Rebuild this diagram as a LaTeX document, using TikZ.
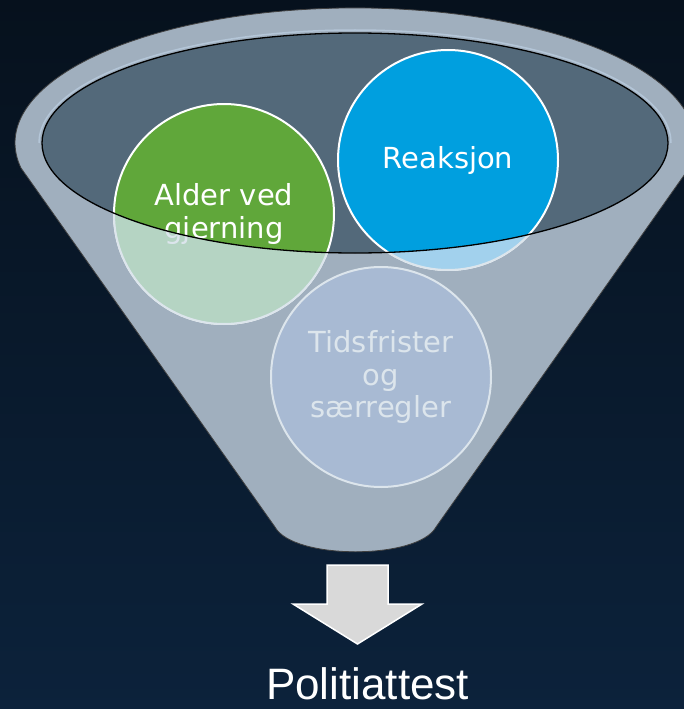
\documentclass[tikz,border=0pt]{standalone}
\usepackage{fontspec}
\setmainfont{Liberation Sans}
\newfontfamily\bubblefont{DejaVu Sans}
\definecolor{bgtop}{HTML}{06111D}
\definecolor{bgbot}{HTML}{0C223B}
\definecolor{funnel}{HTML}{A0AFBE}
\definecolor{mouth}{HTML}{53697A}
\definecolor{rimlight}{HTML}{B4C6D8}
\definecolor{alder}{HTML}{60A73A}
\definecolor{alderfade}{HTML}{B5D4C3}
\definecolor{reak}{HTML}{009FDF}
\definecolor{reakfade}{HTML}{A2D1ED}
\definecolor{frist}{HTML}{A8BAD3}
\definecolor{fadetext}{HTML}{DCE5EC}
\definecolor{pil}{HTML}{D9D9D9}
\begin{document}
\begin{tikzpicture}
    [x=1pt,y=-1pt,
     bubble/.style={circle,minimum size=220pt,inner sep=0pt,align=center,
       font=\bubblefont\fontsize{29}{32.5}\selectfont,text=white,draw=white,line width=2pt},
     faded/.style={draw=fadetext,text=fadetext}]
    \useasboundingbox (0,0) rectangle (684,709);
    \fill[top color=bgtop,bottom color=bgbot] (0,0) rectangle (684,709);
    % funnel body
    \fill[funnel,draw=black!75,line width=0.8pt] (275,527) -- (21,168)
      arc[start angle=169.3,end angle=370.7,x radius=340,y radius=135]
      -- (436,527) .. controls (418,560) and (293,560) .. (275,527) -- cycle;
    \fill[mouth] (355,143) ellipse[x radius=313,y radius=110];
    \draw[rimlight,line width=1.5pt] (39,143) arc[start angle=180,end angle=360,x radius=316,y radius=113];
    % bubbles
    \node[bubble,fill=alder] (alder) at (224,214) {Alder ved\\gjerning};
    \node[bubble,fill=reak] (reaksjon) at (448,160) {Reaksjon};
    \node[bubble,faded,fill=frist] (frister) at (381,377) {Tidsfrister\\og\\særregler};
    % front of the funnel
    \begin{scope}
      \clip (0,143) -- (42,143) arc[start angle=180,end angle=0,x radius=313,y radius=110]
        -- (684,143) -- (684,709) -- (0,709) -- cycle;
      \node[bubble,faded,fill=alderfade] (alder-front) at (alder) {Alder ved\\gjerning};
      \node[bubble,faded,fill=reakfade] (reaksjon-front) at (reaksjon) {Reaksjon};
    \end{scope}
    \draw[black,line width=1.3pt] (355,143) ellipse[x radius=313,y radius=110];
    % arrow and result
    \filldraw[fill=pil,draw=white,line width=1.5pt] (327,565) -- (388,565) -- (388,604)
      -- (422,604) -- (357.5,644) -- (293,604) -- (327,604) -- cycle;
    \node[anchor=base,inner sep=0pt,text=white,font=\fontsize{44}{48}\selectfont] (attest) at (367.5,699) {Politiattest};
\end{tikzpicture}
\end{document}
